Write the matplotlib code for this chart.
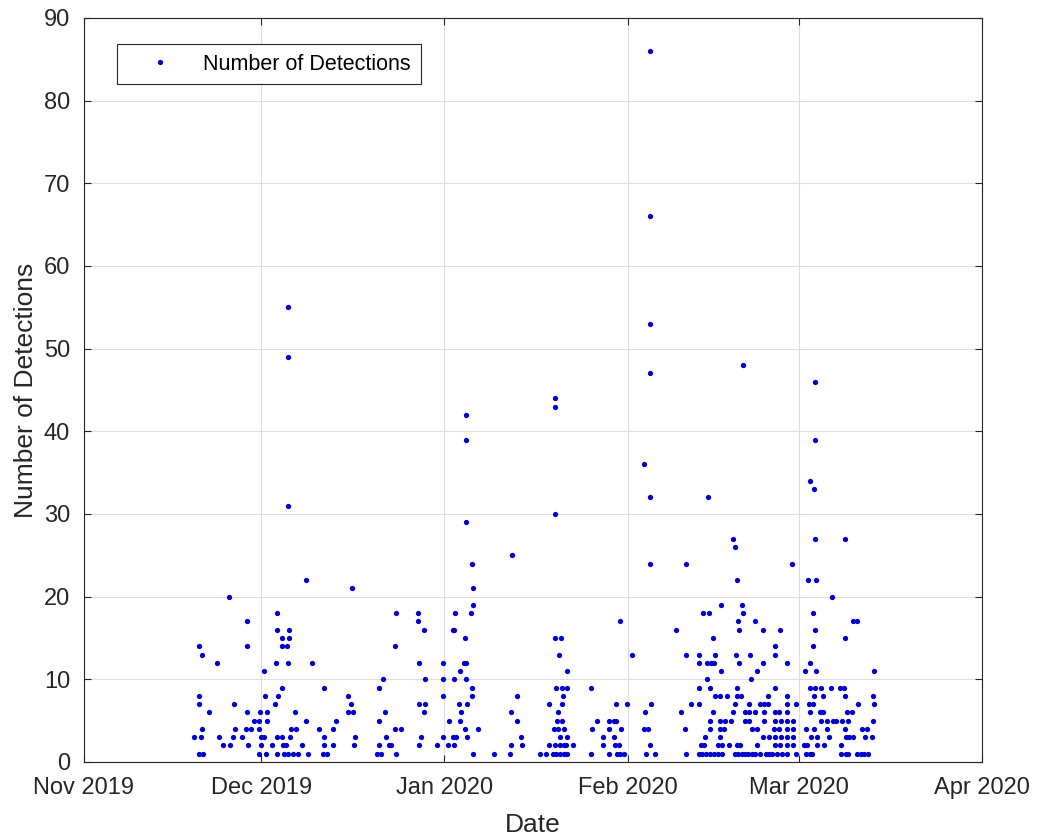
import matplotlib
matplotlib.use("Agg")
import matplotlib.pyplot as plt
import matplotlib.dates as mdates
import numpy as np
import pandas as pd

# detection times, in days after 2019-12-01 (negative = November), and counts
nov_t = [-11.46, -10.61, -10.56, -10.56, -10.51, -10.22, -10.05, -10.05, -9.83, -8.81,
         -7.56, -7.22, -6.44, -5.42, -5.31, -4.75, -4.68, -4.46, -3.27, -2.64,
         -2.48, -2.48, -2.48, -2.31, -1.75, -1.24, -0.39, -0.34, -0.34, -0.22,
         -0.05, -0.05]
nov_n = [3, 7, 14, 1, 8, 3, 13, 4, 1, 6,
         12, 3, 2, 20, 2, 3, 7, 4, 3, 4,
         17, 14, 6, 2, 4, 5, 1, 5, 4, 6,
         3, 2]

dec_t = [0.46, 0.51, 0.68, 0.8, 0.92, 0.92, 1.81, 2.27, 2.49, 2.61,
         2.61, 2.61, 2.61, 2.78, 3.46, 3.56, 3.56, 3.56, 3.73, 3.9,
         4.19, 4.41, 4.47, 4.58, 4.58, 4.58, 4.58, 4.69, 4.69, 4.86,
         5.03, 5.42, 5.71, 5.88, 6.27, 6.95, 7.58, 7.58, 7.97, 8.64,
         9.73, 10.51, 10.63, 10.63, 10.68, 11.08, 12.1, 12.15, 12.66, 14.75,
         14.75, 15.2, 15.42, 15.59, 15.76, 15.88, 19.61, 19.9, 19.95, 19.95,
         20.34, 20.58, 20.92, 21.14, 21.69, 22.03, 22.66, 22.71, 22.78, 22.83,
         23.68, 26.51, 26.61, 26.73, 26.73, 26.78, 27.12, 27.63, 27.63, 27.75,
         27.75, 29.83, 30.68, 30.68, 30.75, 30.75]
dec_n = [3, 11, 8, 1, 6, 5, 2, 7, 12, 18,
         16, 3, 1, 8, 3, 15, 14, 9, 2, 1,
         2, 14, 12, 55, 49, 31, 1, 16, 15, 3,
         4, 1, 6, 4, 1, 2, 22, 5, 1, 12,
         4, 1, 3, 2, 9, 1, 2, 4, 5, 8,
         6, 7, 21, 6, 2, 3, 1, 9, 5, 2,
         1, 10, 6, 3, 2, 2, 4, 14, 18, 1,
         4, 17, 18, 12, 7, 2, 3, 16, 6, 10,
         7, 2, 12, 10, 8, 3]

jan_t = [31.59, 31.76, 32.49, 32.54, 32.61, 32.7, 32.71, 32.78, 32.95, 33.46,
         33.56, 33.56, 33.73, 34.24, 34.53, 34.53, 34.64, 34.69, 34.69, 34.69,
         34.69, 34.81, 34.81, 35.42, 35.66, 35.66, 35.71, 35.76, 35.83, 35.83,
         36.68, 39.39, 42.15, 42.27, 42.27, 42.37, 43.29, 43.29, 44.02, 44.19,
         47.12, 48.25, 48.64, 48.64, 49.32, 49.56, 49.66, 49.78, 49.8, 49.8,
         49.8, 49.83, 49.9, 50.07, 50.17, 50.17, 50.41, 50.51, 50.63, 50.63,
         50.8, 50.92, 50.97, 50.97, 51.08, 51.19, 51.19, 51.31, 51.64, 51.76,
         51.76, 51.81, 51.81, 52.78, 55.83, 55.88, 56.0, 56.85, 57.8, 57.92,
         58.81, 58.81, 58.88, 59.66, 59.66, 59.95, 60.12, 60.12, 60.24, 60.51,
         60.8, 60.8, 60.92, 61.36, 61.93]
jan_n = [2, 5, 16, 3, 2, 16, 10, 18, 3, 7,
         11, 5, 6, 12, 15, 4, 10, 42, 39, 29,
         12, 7, 3, 18, 9, 8, 24, 21, 19, 1,
         4, 1, 1, 6, 2, 25, 8, 5, 3, 2,
         1, 1, 7, 2, 1, 4, 15, 2, 44, 43,
         30, 9, 1, 5, 6, 4, 13, 2, 3, 1,
         15, 7, 9, 5, 8, 2, 1, 4, 2, 3,
         1, 11, 9, 2, 9, 1, 4, 5, 3, 2,
         5, 1, 4, 5, 3, 2, 7, 5, 1, 2,
         17, 1, 4, 1, 7]

feb_t = [62.78, 64.75, 64.81, 64.98, 65.08, 65.49, 65.76, 65.76, 65.76, 65.76,
         65.76, 65.76, 65.88, 65.93, 66.61, 70.12, 70.97, 71.64, 71.81, 71.86,
         71.86, 72.78, 74.02, 74.02, 74.02, 74.07, 74.14, 74.36, 74.64, 74.75,
         74.92, 75.08, 75.2, 75.49, 75.49, 75.54, 75.76, 75.93, 75.93, 75.93,
         75.93, 76.05, 76.51, 76.51, 76.61, 76.61, 76.78, 76.85, 77.29, 77.29,
         77.63, 77.63, 77.63, 77.63, 77.8, 77.8, 78.03, 78.03, 78.31, 78.47,
         78.88, 79.15, 79.44, 79.78, 79.9, 80.17, 80.24, 80.24, 80.34, 80.46,
         80.51, 80.58, 80.58, 80.68, 80.74, 80.8, 80.92, 81.02, 81.25, 81.31,
         81.31, 81.47, 81.47, 81.81, 81.81, 81.86, 82.44, 82.54, 82.54, 82.54,
         82.66, 82.83, 83.0, 83.12, 83.51, 83.56, 83.63, 83.9, 83.97, 83.97,
         84.41, 84.41, 84.86, 84.92, 84.98, 85.08, 85.08, 85.15, 85.37, 85.83,
         85.83, 85.93, 85.93, 86.51, 86.78, 86.9, 86.9, 86.95, 86.95, 86.95,
         87.02, 87.02, 87.36, 87.63, 87.63, 87.8, 87.8, 87.92, 87.92, 88.2,
         88.93, 88.93, 88.93, 88.93, 89.05, 89.05, 89.05, 89.05, 89.05, 89.78,
         90.0, 90.0, 90.07, 90.07, 90.46, 90.46]
feb_n = [13, 4, 36, 6, 1, 4, 86, 66, 53, 47,
         32, 24, 2, 7, 1, 16, 6, 4, 1, 24,
         13, 7, 13, 12, 9, 1, 7, 2, 1, 18,
         2, 3, 1, 12, 10, 32, 18, 9, 5, 4,
         1, 12, 15, 6, 12, 1, 8, 13, 2, 1,
         8, 5, 4, 3, 19, 11, 2, 1, 4, 5,
         8, 2, 5, 27, 6, 1, 26, 7, 13, 2,
         22, 9, 8, 17, 1, 16, 12, 2, 8, 19,
         1, 48, 18, 6, 5, 1, 1, 7, 6, 5,
         13, 10, 1, 4, 6, 1, 17, 11, 4, 2,
         7, 1, 16, 3, 12, 7, 5, 6, 1, 8,
         7, 3, 1, 1, 4, 5, 3, 13, 9, 2,
         14, 6, 1, 6, 4, 16, 2, 5, 3, 1,
         8, 4, 2, 1, 12, 7, 6, 5, 3, 24,
         5, 4, 3, 2, 7, 1]

mar_t = [91.86, 91.98, 92.15, 92.15, 92.44, 92.54, 92.71, 92.83, 92.88, 92.88,
         92.88, 92.95, 93.0, 93.29, 93.34, 93.39, 93.46, 93.56, 93.56, 93.56,
         93.68, 93.73, 93.8, 93.8, 93.8, 93.85, 93.9, 94.02, 94.02, 94.58,
         94.81, 94.81, 95.08, 95.08, 95.25, 95.83, 95.83, 96.1, 96.39, 96.68,
         96.85, 97.24, 97.97, 98.08, 98.08, 98.25, 98.64, 98.76, 98.76, 98.81,
         98.88, 98.93, 98.93, 99.22, 99.32, 99.32, 99.49, 100.07, 100.12, 100.24,
         100.92, 100.92, 101.02, 101.47, 101.76, 102.03, 102.2, 102.61, 102.71, 103.34,
         103.56, 103.56, 103.63, 103.73]
mar_n = [2, 11, 4, 1, 2, 22, 7, 34, 9, 6,
         1, 12, 3, 1, 18, 7, 14, 33, 8, 4,
         27, 16, 46, 39, 9, 11, 22, 3, 2, 6,
         9, 5, 8, 6, 2, 5, 4, 3, 9, 20,
         5, 5, 9, 2, 1, 5, 9, 8, 4, 27,
         15, 3, 1, 6, 5, 1, 3, 6, 17, 3,
         17, 1, 7, 1, 4, 1, 3, 4, 1, 3,
         8, 5, 11, 7]

month_ticks = ["2019-11-01", "2019-12-01", "2020-01-01", "2020-02-01", "2020-03-01", "2020-04-01"]

days = np.concatenate([nov_t, dec_t, jan_t, feb_t, mar_t])
counts = np.concatenate([nov_n, dec_n, jan_n, feb_n, mar_n])
when = pd.Timestamp("2019-12-01") + pd.to_timedelta(days, unit="D")

plt.rcParams["font.family"] = ["Liberation Sans", "DejaVu Sans"]
dark = "#262626"

fig = plt.figure(figsize=(10.37, 8.39), dpi=100)
ax = fig.add_axes([0.081, 0.0918, 0.866, 0.8868])

ax.plot(when, counts, linestyle="none", marker="o", markersize=3.8,
        color="#0000d0", markeredgewidth=0, label="Number of Detections")

ticks = pd.to_datetime(month_ticks)
ax.set_xlim(ticks[0], ticks[-1])
ax.set_xticks(ticks)
ax.xaxis.set_major_formatter(mdates.DateFormatter("%b %Y"))
ax.set_ylim(0, 90)
ax.set_yticks(np.arange(0, 91, 10))

ax.grid(True, color="#dedede", linewidth=0.8)
ax.set_axisbelow(True)
for s in ax.spines.values():
    s.set_color(dark)
    s.set_linewidth(0.8)
ax.tick_params(direction="in", length=5, width=0.8, color=dark,
               labelcolor=dark, labelsize=17, top=True, right=True)
ax.tick_params(axis="x", pad=11)
ax.tick_params(axis="y", pad=10)

ax.set_xlabel("Date", fontsize=19, color=dark, labelpad=10)
ax.set_ylabel("Number of Detections", fontsize=19, color=dark, labelpad=4)

leg = ax.legend(loc="upper left", bbox_to_anchor=(0.037, 0.965), borderaxespad=0,
                fontsize=15.5, fancybox=False, edgecolor=dark, framealpha=1,
                handlelength=3.1, handletextpad=0.45, borderpad=0.45, markerscale=1.0)
leg.get_frame().set_linewidth(0.8)

fig.savefig("out.png", dpi=100)
